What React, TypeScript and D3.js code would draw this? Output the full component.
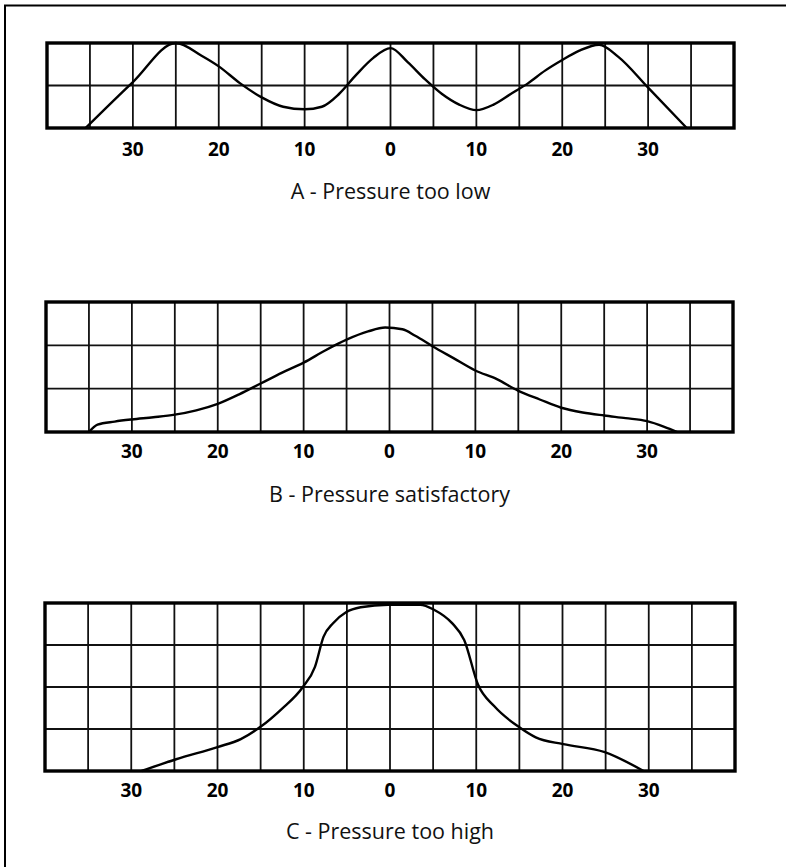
import React from "react";
import * as d3 from "d3";

// ---- Data (x in position units, y in grid rows from the bottom) ----
const xDomain = [-40, 40];
const gridStep = 5;
const tickValues = [-30, -20, -10, 0, 10, 20, 30];
const tickLabels = ["30", "20", "10", "0", "10", "20", "30"];

const titleA = "A - Pressure too low";
const titleB = "B - Pressure satisfactory";
const titleC = "C - Pressure too high";

const rowsA = 2;
const rowsB = 3;
const rowsC = 4;

const xA = [-35.5, -30, -25, -22, -20, -17.5, -15, -12.5, -10, -8, -6, -4, -2, 0, 2, 4, 6, 8, 10, 12, 14, 16, 18, 20, 22, 24.3, 26.5, 30, 34.5];
const yA = [0, 1.08, 2, 1.7, 1.45, 1.05, 0.72, 0.5, 0.44, 0.5, 0.8, 1.25, 1.65, 1.88, 1.55, 1.15, 0.8, 0.55, 0.42, 0.55, 0.8, 1.05, 1.35, 1.6, 1.82, 1.96, 1.68, 0.95, 0];

const xB = [-35, -34, -32, -30, -27.5, -25, -22.5, -20, -17.5, -15, -12.5, -10, -7.5, -5, -2.5, -0.5, 1.5, 3, 5, 7.5, 10, 12.5, 15, 17.5, 20, 22.5, 25, 27.5, 30, 32, 33.5];
const yB = [0, 0.17, 0.24, 0.29, 0.34, 0.4, 0.5, 0.65, 0.87, 1.12, 1.37, 1.6, 1.88, 2.13, 2.32, 2.41, 2.37, 2.22, 1.98, 1.7, 1.42, 1.22, 0.95, 0.75, 0.56, 0.45, 0.38, 0.32, 0.25, 0.12, 0];

const xC = [-28.8, -24.8, -20, -17.3, -14.9, -12.6, -10.1, -8.7, -7.7, -6.6, -5.1, -3.4, -0.2, 3.5, 5.1, 7.2, 8.6, 10.2, 12.1, 15, 16.9, 20.1, 24.9, 29.4];
const yC = [0, 0.28, 0.57, 0.76, 1.07, 1.47, 2.0, 2.48, 3.2, 3.52, 3.78, 3.9, 3.96, 3.96, 3.84, 3.52, 3.12, 2.06, 1.54, 1.04, 0.8, 0.64, 0.45, 0];

// ---- Layout ----
const W = 786;
const H = 867;

interface PanelProps {
  xs: number[];
  ys: number[];
  rows: number;
  left: number;
  right: number;
  top: number;
  bottom: number;
  title: string;
  tickBaseline: number;
  titleBaseline: number;
}

function Panel({ xs, ys, rows, left, right, top, bottom, title, tickBaseline, titleBaseline }: PanelProps) {
  const x = d3.scaleLinear().domain(xDomain).range([left, right]);
  const y = d3.scaleLinear().domain([0, rows]).range([bottom, top]);
  const vLines = d3.range(xDomain[0] + gridStep, xDomain[1], gridStep);
  const hLines = d3.range(1, rows);
  const pts: [number, number][] = xs.map((v, i) => [v, ys[i]]);
  const line = d3
    .line<[number, number]>()
    .x((d) => x(d[0]))
    .y((d) => y(d[1]))
    .curve(d3.curveMonotoneX);
  return (
    <g>
      {vLines.map((v) => (
        <line key={"v" + v} x1={x(v)} x2={x(v)} y1={top} y2={bottom} stroke="#111" strokeWidth={1.8} />
      ))}
      {hLines.map((h) => (
        <line key={"h" + h} x1={left} x2={right} y1={y(h)} y2={y(h)} stroke="#111" strokeWidth={1.8} />
      ))}
      <path d={line(pts) || ""} fill="none" stroke="#000" strokeWidth={2.4} strokeLinejoin="round" />
      <rect x={left} y={top} width={right - left} height={bottom - top} fill="none" stroke="#000" strokeWidth={3.4} />
      {tickValues.map((t, i) => (
        <text
          key={"t" + i}
          x={x(t)}
          y={tickBaseline}
          textAnchor="middle"
          fontFamily="'Open Sans', 'Noto Sans', sans-serif"
          fontWeight={700}
          fontSize={19}
          fill="#000"
        >
          {tickLabels[i]}
        </text>
      ))}
      <text
        x={x(0)}
        y={titleBaseline}
        textAnchor="middle"
        fontFamily="'Open Sans', 'Noto Sans', sans-serif"
        fontSize={21.5}
        fill="#111"
      >
        {title}
      </text>
    </g>
  );
}

export default function App() {
  return (
    <svg
      width={W}
      height={H}
      viewBox={`0 0 ${W} ${H}`}
      style={{ position: "absolute", left: 0, top: 0, background: "#fff" }}
    >
      <rect x={0} y={0} width={W} height={H} fill="#fff" />
      <line x1={5} x2={5} y1={5} y2={H} stroke="#000" strokeWidth={2} />
      <line x1={4} x2={W} y1={5.5} y2={5.5} stroke="#000" strokeWidth={2} />
      <Panel xs={xA} ys={yA} rows={rowsA} left={47} right={734} top={43} bottom={128} title={titleA} tickBaseline={156} titleBaseline={199} />
      <Panel xs={xB} ys={yB} rows={rowsB} left={46} right={733} top={302} bottom={432} title={titleB} tickBaseline={458} titleBaseline={502} />
      <Panel xs={xC} ys={yC} rows={rowsC} left={45} right={735} top={603} bottom={771} title={titleC} tickBaseline={797} titleBaseline={839} />
    </svg>
  );
}
